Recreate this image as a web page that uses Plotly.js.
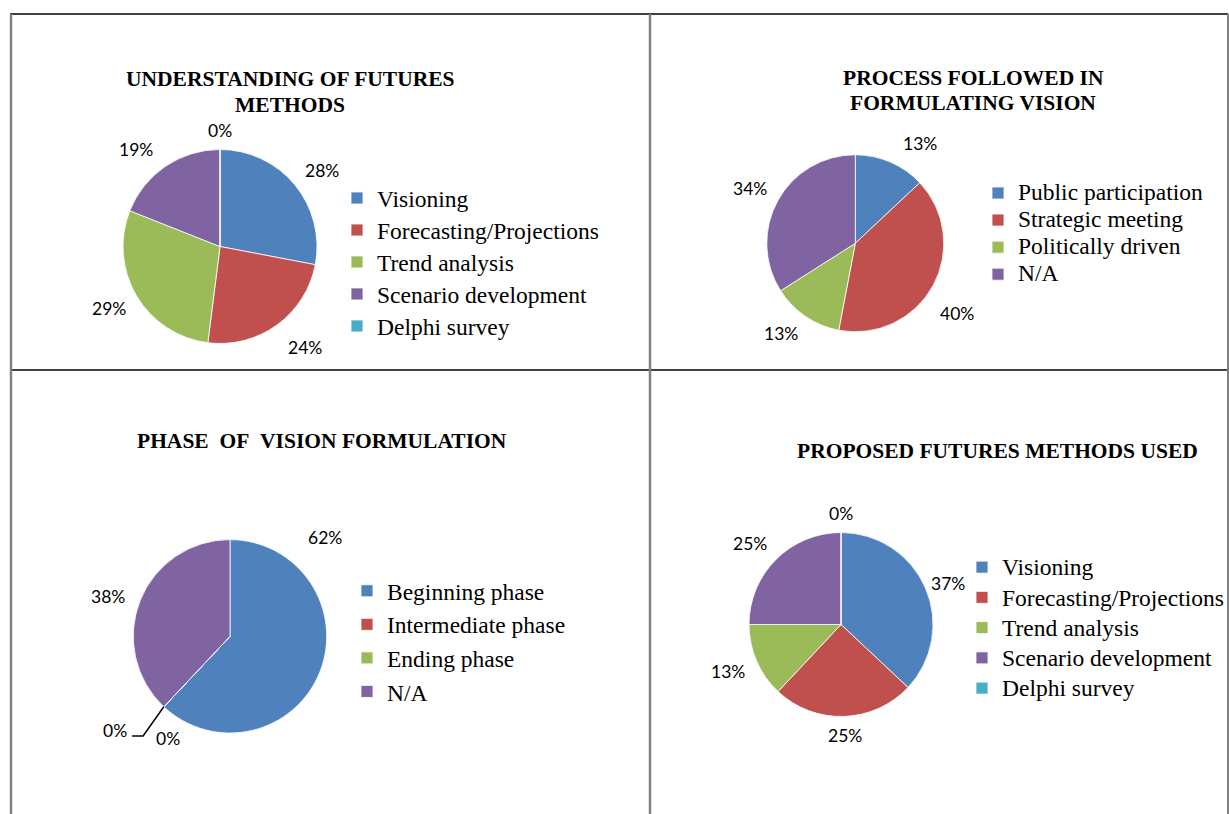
<!DOCTYPE html>
<html>
<head>
<meta charset="utf-8">
<script src="https://cdn.plot.ly/plotly-3.0.1.min.js"></script>
<style>
  html, body { margin: 0; padding: 0; background: #ffffff; }
  #chart { width: 1229px; height: 814px; }
</style>
</head>
<body>
<div id="chart"></div>
<script>
// ---- survey results (percent of respondents) ----
const methodLabels = ['Visioning', 'Forecasting/Projections', 'Trend analysis', 'Scenario development', 'Delphi survey'];
const understandingValues = [28, 24, 29, 19, 0];

const processLabels = ['Public participation', 'Strategic meeting', 'Politically driven', 'N/A'];
const processValues = [13, 40, 13, 34];

const phaseLabels = ['Beginning phase', 'Intermediate phase', 'Ending phase', 'N/A'];
const phaseValues = [62, 0, 0, 38];

const proposedValues = [37, 25, 13, 25, 0];

const titleUnderstanding = ['UNDERSTANDING OF FUTURES', 'METHODS'];
const titleProcess = ['PROCESS FOLLOWED IN', 'FORMULATING VISION'];
const titlePhase = ['PHASE\u00a0\u00a0OF\u00a0\u00a0VISION FORMULATION'];
const titleProposed = ['PROPOSED FUTURES METHODS USED'];

// ---- page geometry (pixels) ----
const W = 1229, H = 814;
const fx = x => x / W;
const fy = y => 1 - y / H;

const sliceColors = ['#4F81BD', '#C0504D', '#9BBB59', '#8064A2', '#4BACC6'];
const serif = '"Liberation Serif", "Times New Roman", serif';
const labelFont = { family: 'Lato, "Open Sans", sans-serif', size: 17.5, color: '#000000' };

// per-panel placement: pie centre/radius, title lines, legend box,
// and small pixel shifts for labels that would otherwise crowd each other
const panels = [
  { labels: methodLabels, values: understandingValues, title: titleUnderstanding,
    cx: 220, cy: 246.5, r: 97, titleX: 290, titleY: [79.5, 104.5],
    legend: { left: 337, top: 177, rowSize: 22.3 },
    nudge: { 1: [3, 6], 3: [-5, 0] }, leader: [] },
  { labels: processLabels, values: processValues, title: titleProcess,
    cx: 855.3, cy: 243.3, r: 88.5, titleX: 973, titleY: [77.5, 102.5],
    legend: { left: 978, top: 174.5, rowSize: 18.5 },
    nudge: { 0: [11, -1], 1: [-4, 15] }, leader: [] },
  { labels: phaseLabels, values: phaseValues, title: titlePhase,
    cx: 230, cy: 636.3, r: 96.7, titleX: 322, titleY: [440.5],
    legend: { left: 347, top: 569, rowSize: 23.5 },
    nudge: { 0: [-24, -144], 1: [24.5, 16], 2: [-28.5, 8], 3: [-3, 5] }, leader: [2] },
  { labels: methodLabels, values: proposedValues, title: titleProposed,
    cx: 841, cy: 624.5, r: 92, titleX: 997, titleY: [451],
    legend: { left: 962, top: 547, rowSize: 20.96 },
    nudge: { 0: [-6, 6] }, leader: [] }
];

const legendText = 23.5;
const traces = [];
const annotations = [];
const shapes = [];

function clamp(v) { return Math.max(-1, Math.min(1, v)); }

panels.forEach((p, k) => {
  const legendId = k === 0 ? 'legend' : 'legend' + (k + 1);
  traces.push({
    type: 'pie',
    labels: p.labels.map(l => `<span style="font-size:${legendText}px">${l}</span>`),
    values: p.values,
    sort: false,
    direction: 'clockwise',
    rotation: 0,
    textinfo: 'none',
    hoverinfo: 'none',
    marker: { colors: sliceColors.slice(0, p.values.length), line: { color: '#ffffff', width: 0.8 } },
    domain: { x: [fx(p.cx - p.r), fx(p.cx + p.r)], y: [fy(p.cy + p.r), fy(p.cy - p.r)] },
    legend: legendId,
    legendgroup: 'panel' + k,
    showlegend: true
  });

  // percentage labels placed just outside each slice's mid angle
  const total = p.values.reduce((a, b) => a + b, 0);
  let before = 0;
  p.values.forEach((v, i) => {
    const mid = (before + v / 2) / total * 2 * Math.PI;
    before += v;
    const s = Math.sin(mid), c = Math.cos(mid);
    const ex = p.cx + p.r * s, ey = p.cy - p.r * c;
    const txt = v + '%';
    const hw = ((txt.length - 1) * 10.15 + 15) / 2;
    const gap = 12, hh = 7;
    let lx = ex + s * gap + clamp(2 * s) * hw;
    let ly = ey - c * gap - clamp(2 * c) * hh;
    if (p.nudge[i]) { lx += p.nudge[i][0]; ly += p.nudge[i][1]; }
    annotations.push({
      xref: 'paper', yref: 'paper', x: fx(lx), y: fy(ly),
      xanchor: 'center', yanchor: 'middle', showarrow: false,
      text: txt, font: labelFont
    });
    if (p.leader.includes(i)) {
      const right = lx + hw;
      const path = `M${fx(ex)},${fy(ey)} L${fx(right + 16)},${fy(ly + 5.5)} L${fx(right + 5)},${fy(ly + 5.5)}`;
      shapes.push({ type: 'path', xref: 'paper', yref: 'paper', path: path,
        line: { color: '#000000', width: 1.5 } });
    }
  });

  // chart title, one annotation per line
  p.title.forEach((line, j) => {
    annotations.push({
      xref: 'paper', yref: 'paper', x: fx(p.titleX), y: fy(p.titleY[j]),
      xanchor: 'center', yanchor: 'middle', showarrow: false,
      text: line, font: { family: serif, size: 21.5, color: '#000000', weight: 'bold' }
    });
  });
});

// frame of the 2x2 table
const frameLines = [
  { x0: 10, y0: 14, x1: 1228, y1: 14, color: '#000000', width: 1.5 },
  { x0: 10, y0: 370, x1: 1228, y1: 370, color: '#000000', width: 1.5 },
  { x0: 11, y0: 14, x1: 11, y1: 814, color: '#808080', width: 2.5 },
  { x0: 650, y0: 14, x1: 650, y1: 814, color: '#808080', width: 2.5 },
  { x0: 1228, y0: 14, x1: 1228, y1: 814, color: '#808080', width: 2 }
];
frameLines.forEach(f => shapes.push({
  type: 'line', xref: 'paper', yref: 'paper',
  x0: fx(f.x0), y0: fy(f.y0), x1: fx(f.x1), y1: fy(f.y1),
  line: { color: f.color, width: f.width }
}));

const layout = {
  width: W, height: H,
  margin: { l: 0, r: 0, t: 0, b: 0, autoexpand: false },
  paper_bgcolor: '#ffffff',
  plot_bgcolor: '#ffffff',
  annotations: annotations,
  shapes: shapes
};
panels.forEach((p, k) => {
  const legendId = k === 0 ? 'legend' : 'legend' + (k + 1);
  layout[legendId] = {
    x: fx(p.legend.left), y: fy(p.legend.top),
    xanchor: 'left', yanchor: 'top',
    bgcolor: 'rgba(0,0,0,0)', borderwidth: 0,
    font: { family: serif, size: p.legend.rowSize, color: '#000000' },
    traceorder: 'normal'
  };
});

Plotly.newPlot('chart', traces, layout, { staticPlot: true, displayModeBar: false });
</script>
</body>
</html>
